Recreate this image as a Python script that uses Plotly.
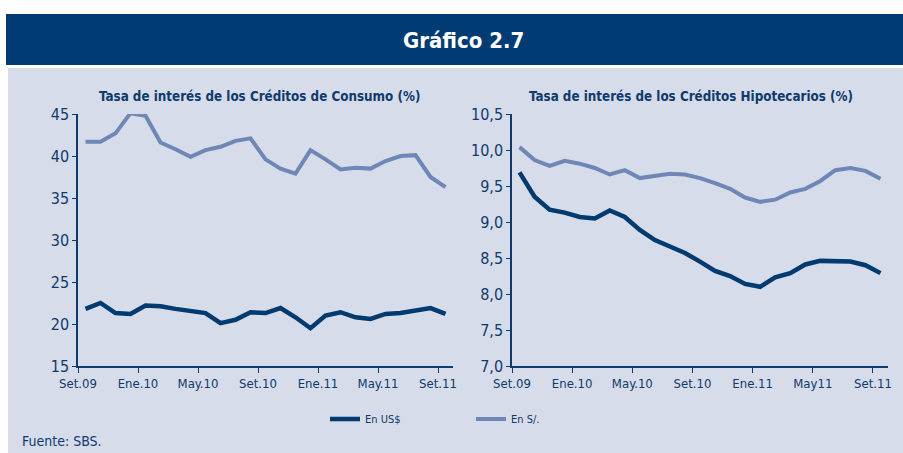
import plotly.graph_objects as go

months = ["Set.09","Oct.09","Nov.09","Dic.09","Ene.10","Feb.10","Mar.10","Abr.10","May.10","Jun.10",
          "Jul.10","Ago.10","Set.10","Oct.10","Nov.10","Dic.10","Ene.11","Feb.11","Mar.11","Abr.11",
          "May.11","Jun.11","Jul.11","Ago.11","Set.11"]
tick_labels_left = ["Set.09", "Ene.10", "May.10", "Set.10", "Ene.11", "May.11", "Set.11"]
tick_labels_right = ["Set.09", "Ene.10", "May.10", "Set.10", "Ene.11", "May11", "Set.11"]

consumo_usd = [21.8, 22.5, 21.3, 21.2, 22.2, 22.1, 21.8, 21.6, 21.3, 20.1, 20.5, 21.4, 21.3,
               21.9, 20.8, 19.5, 21.0, 21.4, 20.8, 20.6, 21.2, 21.3, 21.6, 21.9, 21.2]
consumo_pen = [41.7, 41.7, 42.7, 45.1, 44.8, 41.6, 40.8, 39.9, 40.7, 41.1, 41.8, 42.1, 39.6,
               38.5, 37.9, 40.7, 39.6, 38.4, 38.6, 38.5, 39.4, 40.0, 40.1, 37.5, 36.3]
hipo_usd = [9.69, 9.35, 9.17, 9.13, 9.07, 9.05, 9.16, 9.07, 8.89, 8.75, 8.66, 8.57, 8.45,
            8.32, 8.25, 8.14, 8.10, 8.23, 8.29, 8.41, 8.46, 8.46, 8.45, 8.40, 8.29]
hipo_pen = [10.04, 9.86, 9.78, 9.85, 9.81, 9.75, 9.66, 9.72, 9.61, 9.64, 9.67, 9.66, 9.61,
            9.54, 9.46, 9.34, 9.28, 9.31, 9.41, 9.46, 9.57, 9.72, 9.75, 9.71, 9.60]

W, H = 903, 453
NAVY = "#003b73"
PANEL = "#d6dce9"
DARK = "#003a70"
LIGHT = "#6f87b6"
TXT = "#0f3a6c"
FONT = "DejaVu Sans Condensed, Liberation Sans Narrow, Arial Narrow, sans-serif"

idx = list(range(len(months)))
tickpos = [i - 0.5 for i in range(0, len(months), 4)]

fig = go.Figure()
fig.add_trace(go.Scatter(x=idx, y=consumo_usd, mode="lines", name="En US$", xaxis="x", yaxis="y",
                         line=dict(color=DARK, width=4.5), legendgroup="usd"))
fig.add_trace(go.Scatter(x=idx, y=consumo_pen, mode="lines", name="En S/.", xaxis="x", yaxis="y",
                         line=dict(color=LIGHT, width=4), legendgroup="pen"))
fig.add_trace(go.Scatter(x=idx, y=hipo_usd, mode="lines", name="En US$", xaxis="x2", yaxis="y2",
                         line=dict(color=DARK, width=4.5), legendgroup="usd", showlegend=False))
fig.add_trace(go.Scatter(x=idx, y=hipo_pen, mode="lines", name="En S/.", xaxis="x2", yaxis="y2",
                         line=dict(color=LIGHT, width=4), legendgroup="pen", showlegend=False))

ydom = [1 - 366 / H, 1 - 114 / H]
common_x = dict(range=[-0.5, len(months) - 0.5], tickmode="array", tickvals=tickpos,
                showline=True, linecolor=TXT, linewidth=1.5, ticks="outside", ticklen=5,
                tickcolor=TXT, showgrid=False, zeroline=False, automargin=False,
                tickfont=dict(family=FONT, size=13, color=TXT))
common_y = dict(showline=True, linecolor=TXT, linewidth=1.5, ticks="outside", ticklen=4,
                tickcolor=TXT, showgrid=False, zeroline=False, automargin=False,
                tickfont=dict(family=FONT, size=16, color=TXT))

fig.update_layout(
    width=W, height=H,
    margin=dict(l=0, r=0, t=0, b=0),
    paper_bgcolor="white", plot_bgcolor=PANEL,
    separators=",.",
    font=dict(family=FONT, color=TXT),
    xaxis=dict(domain=[78 / W, 453 / W], anchor="y", ticktext=tick_labels_left, **common_x),
    yaxis=dict(domain=ydom, anchor="x", range=[15, 45], dtick=5, **common_y),
    xaxis2=dict(domain=[512 / W, 888 / W], anchor="y2", ticktext=tick_labels_right, **common_x),
    yaxis2=dict(domain=ydom, anchor="x2", range=[7, 10.5], dtick=0.5, tickformat=".1f", **common_y),
    showlegend=True,
    legend=dict(orientation="h", x=325 / W, y=1 - 419 / H, xanchor="left", yanchor="middle",
                bgcolor="rgba(0,0,0,0)", entrywidth=101, entrywidthmode="pixels",
                font=dict(family=FONT, size=11, color=TXT), tracegroupgap=0),
    shapes=[
        dict(type="rect", xref="paper", yref="paper", x0=8 / W, x1=1, y0=0, y1=1 - 68 / H,
             fillcolor=PANEL, line=dict(width=0), layer="below"),
        dict(type="rect", xref="paper", yref="paper", x0=6 / W, x1=1, y0=1 - 65 / H, y1=1 - 14 / H,
             fillcolor=NAVY, line=dict(width=0), layer="below"),
    ],
    annotations=[
        dict(text="<b>Gráfico 2.7</b>", xref="paper", yref="paper", x=463 / W, y=1 - 40 / H,
             showarrow=False, xanchor="center", yanchor="middle",
             font=dict(family=FONT, size=22, color="white")),
        dict(text="<b>Tasa de interés de los Créditos de Consumo (%)</b>", xref="paper", yref="paper",
             x=259 / W, y=1 - 97 / H, showarrow=False, xanchor="center", yanchor="middle",
             font=dict(family=FONT, size=13.3, color=TXT)),
        dict(text="<b>Tasa de interés de los Créditos Hipotecarios (%)</b>", xref="paper", yref="paper",
             x=691 / W, y=1 - 97 / H, showarrow=False, xanchor="center", yanchor="middle",
             font=dict(family=FONT, size=13.3, color=TXT)),
        dict(text="Fuente: SBS.", xref="paper", yref="paper", x=20 / W, y=1 - 441 / H,
             showarrow=False, xanchor="left", yanchor="middle",
             font=dict(family=FONT, size=14, color=TXT)),
    ],
)

fig.write_html("out.html", config={"displayModeBar": False},
               post_script="document.body.style.margin='0';document.body.style.overflow='hidden';")
